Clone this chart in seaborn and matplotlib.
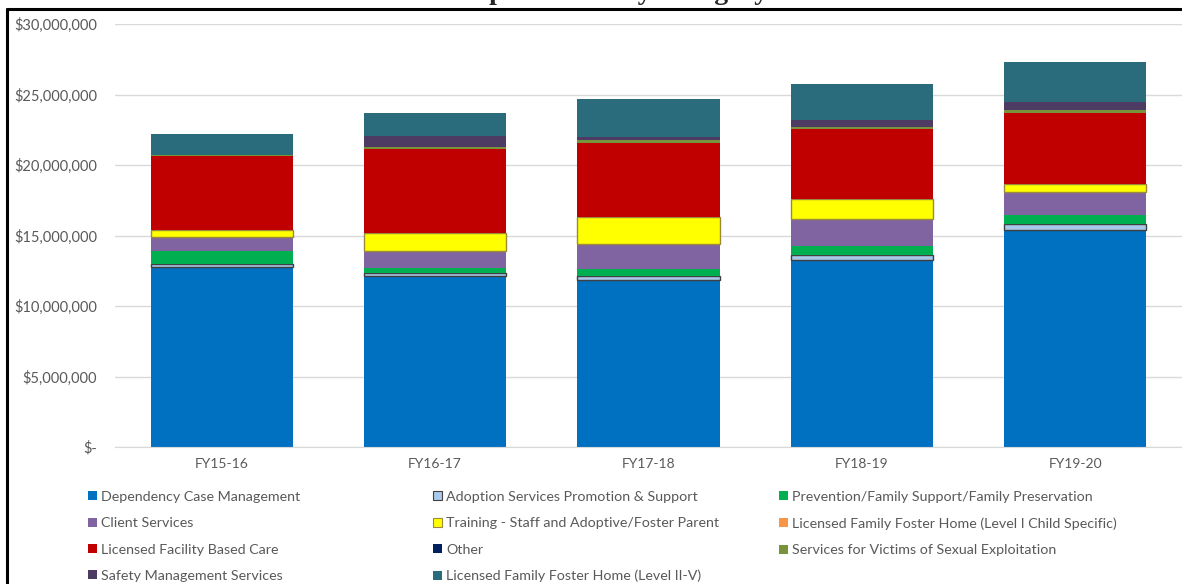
import numpy as np
import matplotlib
matplotlib.use("Agg")
import matplotlib.pyplot as plt
from matplotlib.lines import Line2D
from matplotlib.patches import Patch
from matplotlib.ticker import FuncFormatter
import seaborn as sns

sns.set_style("white")
plt.rcParams["font.family"] = ["Lato", "DejaVu Sans"]

# values, in millions of dollars
years = ["FY15-16", "FY16-17", "FY17-18", "FY18-19", "FY19-20"]
dependency = [12.78, 12.10, 11.85, 13.24, 15.39]
adoption = [0.18, 0.22, 0.28, 0.38, 0.40]
prevention = [0.94, 0.35, 0.49, 0.66, 0.66]
client = [1.02, 1.23, 1.75, 1.89, 1.66]
training = [0.47, 1.26, 1.92, 1.40, 0.52]
lffh_level1 = [0.0, 0.0, 0.0, 0.0, 0.0]
facility = [5.27, 5.95, 5.29, 4.98, 5.03]
other = [0.0, 0.0, 0.0, 0.0, 0.0]
sexual_expl = [0.03, 0.20, 0.19, 0.12, 0.24]
safety = [0.0, 0.73, 0.24, 0.52, 0.55]
lffh_level2 = [1.54, 1.63, 2.65, 2.53, 2.83]

series = [
    ("Dependency Case Management", dependency, "#0070C0", None),
    ("Adoption Services Promotion & Support", adoption, "#A9C9EA", "#404040"),
    ("Prevention/Family Support/Family Preservation", prevention, "#00B050", None),
    ("Client Services", client, "#8064A2", None),
    ("Training - Staff and Adoptive/Foster Parent", training, "#FFFF00", "#9C8A3A"),
    ("Licensed Family Foster Home (Level I Child Specific)", lffh_level1, "#F79646", None),
    ("Licensed Facility Based Care", facility, "#C00000", None),
    ("Other", other, "#002060", None),
    ("Services for Victims of Sexual Exploitation", sexual_expl, "#77933C", None),
    ("Safety Management Services", safety, "#4E3B63", None),
    ("Licensed Family Foster Home (Level II-V)", lffh_level2, "#2A6B7C", None),
]

W, H = 1182, 584
fig = plt.figure(figsize=(W / 100, H / 100), dpi=100)
ax = fig.add_axes([115 / W, 1 - 447 / H, 1 - 115 / W, (447 - 24) / H])

bottom = np.zeros(len(years))
for name, vals, col, edge in series:
    v = np.array(vals) * 1e6
    sns.barplot(x=years, y=v, order=years, color=col, width=0.667, bottom=bottom,
                edgecolor=edge if edge else col, linewidth=1.0 if edge else 0,
                saturation=1, ax=ax)
    bottom = bottom + v

ax.set_ylim(0, 30e6)
ax.set_yticks(np.arange(0, 30e6 + 1, 5e6))
ax.yaxis.set_major_formatter(FuncFormatter(lambda v, p: "$-" if v == 0 else f"${v:,.0f}"))
ax.grid(axis="y", color="#D9D9D9", lw=1)
ax.set_axisbelow(True)
for s in ["top", "right", "left"]:
    ax.spines[s].set_visible(False)
ax.spines["bottom"].set_color("#D9D9D9")
ax.tick_params(axis="y", length=0, pad=13, labelsize=10.5, labelcolor="#595959")
ax.tick_params(axis="x", length=0, pad=8, labelsize=10, labelcolor="#595959")
ax.set_xlabel("")
ax.set_ylabel("")

# legend: three columns placed by hand
handles = [Patch(facecolor=c, edgecolor=e if e else c, lw=0.8 if e else 0)
           for _, _, c, e in series]
labels = [n for n, _, _, _ in series]
col_x = [88, 433, 779]
for j in range(3):
    idx = list(range(j, len(series), 3))
    fig.legend([handles[i] for i in idx], [labels[i] for i in idx],
               loc="upper left", bbox_to_anchor=(col_x[j] / W, 1 - 491 / H),
               frameon=False, fontsize=10.3, labelcolor="#595959",
               handlelength=0.6, handleheight=0.6, handletextpad=0.3,
               labelspacing=1.0, borderpad=0, borderaxespad=0)

# clipped title and frame of the original page
fig.text(613 / W, 1 + 1 / H, "Expenditures by Category", ha="center", va="baseline",
         fontsize=20, fontweight="bold", family="Liberation Serif")
fig.add_artist(Line2D([7 / W, 7 / W], [0, 1 - 9 / H], transform=fig.transFigure,
                      color="black", lw=2.2))
fig.add_artist(Line2D([7 / W, 1], [1 - 9 / H, 1 - 9 / H], transform=fig.transFigure,
                      color="black", lw=2.2))

fig.savefig("out.png", dpi=100)
